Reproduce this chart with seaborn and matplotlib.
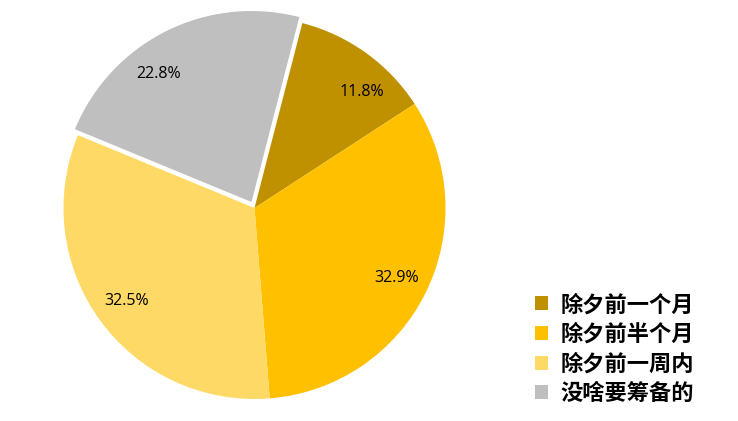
import matplotlib
matplotlib.use('Agg')
import matplotlib.pyplot as plt
import seaborn as sns
import numpy as np

categories = ['除夕前一个月', '除夕前半个月', '除夕前一周内', '没啥要筹备的']
shares = [11.8, 32.9, 32.5, 22.8]
colors = ['#BF9000', '#FFC000', '#FFD966', '#BFBFBF']
explode = [0, 0, 0, 0.035]
# Excel nudges two of the labels off the wedge middle (degrees, clockwise)
label_turn = [7, 0, 0, -9]

sns.set_theme(style='white')
plt.rcParams['font.family'] = ['Noto Sans CJK SC', 'DejaVu Sans']

fig = plt.figure(figsize=(7.38, 4.21), dpi=100)
# pie radius ~191px, centred at (254.5, 208) from top-left
r = 191
pad = 1.1
w = 2 * r * pad
cx, cy = 254.5, 421 - 208
ax = fig.add_axes([(cx - w / 2) / 738, (cy - w / 2) / 421, w / 738, w / 421])

wedges, texts, autotexts = ax.pie(
    shares, colors=colors, explode=explode, startangle=75.5, counterclock=False,
    autopct='%.1f%%', pctdistance=0.83,
    wedgeprops=dict(linewidth=0),
    textprops=dict(fontsize=11.5, family=['Open Sans', 'DejaVu Sans'], color='black'))

for t, turn in zip(autotexts, label_turn):
    x, y = t.get_position()
    a = np.deg2rad(-turn)
    t.set_position((x * np.cos(a) - y * np.sin(a), x * np.sin(a) + y * np.cos(a)))

ax.set_xlim(-pad, pad)
ax.set_ylim(-pad, pad)
ax.set_aspect('equal')
ax.axis('off')

leg = fig.legend(wedges, categories, loc='lower left', bbox_to_anchor=(515 / 738, -0.01),
                 frameon=False, handlelength=0.6, handleheight=0.6, handletextpad=0.55,
                 labelspacing=0.3, prop=dict(family=['Noto Sans CJK SC'], weight='bold', size=16))
for t in leg.get_texts():
    t.set_color('black')

fig.savefig('out.png', dpi=100)
